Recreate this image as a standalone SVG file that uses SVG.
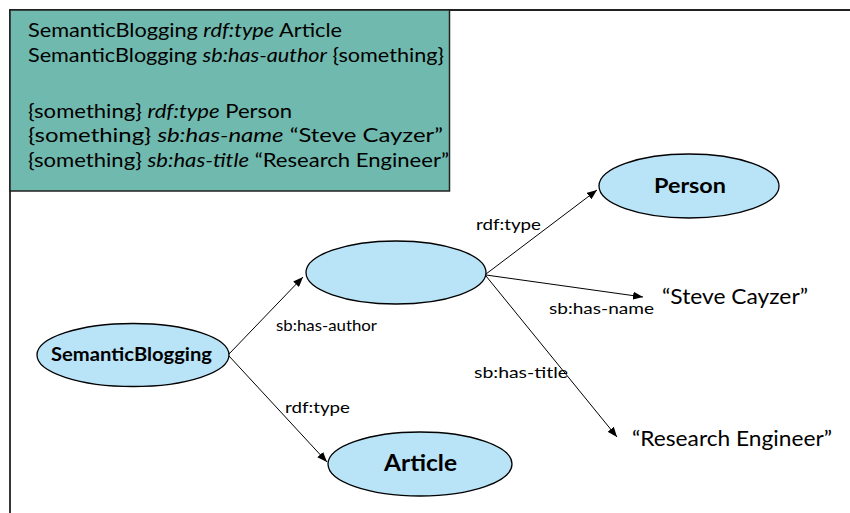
<svg xmlns="http://www.w3.org/2000/svg" width="850" height="513" viewBox="0 0 850 513">
<style>
  text { font-family: Lato, "Open Sans", "Liberation Sans", sans-serif; fill: #000; }
  .box { font-size: 20px; }
  .it { font-style: italic; }
  .node { fill: #B9E3F7; stroke: #000; stroke-width: 1.3; }
  .nl { font-weight: bold; text-anchor: middle; }
  .el { font-size: 16px; }
  .lit { font-size: 21px; }
  .edge { stroke: #000; stroke-width: 1; fill: none; marker-end: url(#ah); }
</style>
<defs>
  <marker id="ah" viewBox="0 0 10 8" refX="10" refY="4" markerWidth="10" markerHeight="8" markerUnits="userSpaceOnUse" orient="auto">
    <path d="M0,0 L10,4 L0,8 Z" fill="#000"/>
  </marker>
</defs>
<rect width="850" height="513" fill="#fff"/>
<path d="M10,513 V10 H850" fill="none" stroke="#222" stroke-width="1.8"/>
<g id="triples">
  <rect x="10" y="10" width="439.5" height="181" fill="#70B9AE" stroke="#222" stroke-width="1.5"/>
  <text class="box" x="28" y="37" textLength="314" lengthAdjust="spacingAndGlyphs">SemanticBlogging <tspan class="it">rdf:type</tspan> Article</text>
  <text class="box" x="28" y="62" textLength="416" lengthAdjust="spacingAndGlyphs">SemanticBlogging <tspan class="it">sb:has-author</tspan> {something}</text>
  <text class="box" x="28" y="118" textLength="264" lengthAdjust="spacingAndGlyphs">{something} <tspan class="it">rdf:type</tspan> Person</text>
  <text class="box" x="28" y="142" textLength="415" lengthAdjust="spacingAndGlyphs">{something} <tspan class="it">sb:has-name</tspan> “Steve Cayzer”</text>
  <text class="box" x="28" y="167" textLength="421" lengthAdjust="spacingAndGlyphs">{something} <tspan class="it">sb:has-title</tspan> “Research Engineer”</text>
</g>
<g id="connectors">
  <line class="edge" x1="229" y1="354" x2="303" y2="277"/>
  <line class="edge" x1="229" y1="356" x2="327" y2="462"/>
  <line class="edge" x1="486" y1="274" x2="597" y2="190"/>
  <line class="edge" x1="486" y1="275" x2="643" y2="297"/>
  <line class="edge" x1="486" y1="276" x2="617" y2="437"/>
  <text class="el" x="476" y="230" textLength="65" lengthAdjust="spacingAndGlyphs">rdf:type</text>
  <text class="el" x="276" y="331" textLength="101" lengthAdjust="spacingAndGlyphs">sb:has-author</text>
  <text class="el" x="285" y="413" textLength="65" lengthAdjust="spacingAndGlyphs">rdf:type</text>
  <text class="el" x="549" y="314" textLength="105" lengthAdjust="spacingAndGlyphs">sb:has-name</text>
  <text class="el" x="474" y="378" textLength="94" lengthAdjust="spacingAndGlyphs">sb:has-title</text>
</g>
<g id="node-semanticblogging">
  <ellipse class="node" cx="133" cy="355" rx="96" ry="31.5"/>
  <text class="nl" x="131.5" y="361" font-size="18" textLength="161" lengthAdjust="spacingAndGlyphs">SemanticBlogging</text>
</g>
<g id="node-something">
  <ellipse class="node" cx="396" cy="272.5" rx="90" ry="31.5"/>
</g>
<g id="node-person">
  <ellipse class="node" cx="689" cy="186" rx="90" ry="32"/>
  <text class="nl" x="690" y="193" font-size="21" textLength="72" lengthAdjust="spacingAndGlyphs">Person</text>
</g>
<g id="node-article">
  <ellipse class="node" cx="420" cy="464" rx="92" ry="32"/>
  <text class="nl" x="420.5" y="471" font-size="22" textLength="73" lengthAdjust="spacingAndGlyphs">Article</text>
</g>
<g id="literal-name">
  <text class="lit" x="662" y="304" textLength="146" lengthAdjust="spacingAndGlyphs">“Steve Cayzer”</text>
</g>
<g id="literal-title">
  <text class="lit" x="632" y="446" textLength="200" lengthAdjust="spacingAndGlyphs">“Research Engineer”</text>
</g>
</svg>
